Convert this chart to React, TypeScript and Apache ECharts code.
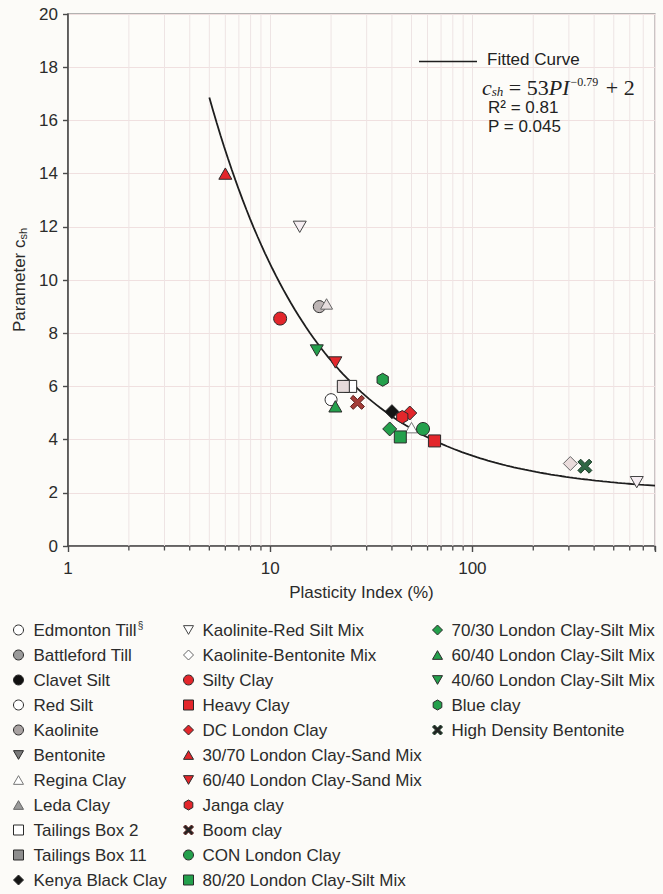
import React, { useEffect, useRef } from "react";
import * as echarts from "echarts";

const WIDTH = 663;
const HEIGHT = 894;

// Axis ticks
const xTickLabels = [1, 10, 100];
const xMinorTicks = [2, 3, 4, 5, 6, 7, 8, 9, 20, 30, 40, 50, 60, 70, 80, 90, 200, 300, 400, 500, 600, 700, 800];
const yTickValues = [0, 2, 4, 6, 8, 10, 12, 14, 16, 18, 20];

// Fitted curve c_sh = a * PI^b + c, drawn over the range below
const fitA = 53;
const fitB = -0.79;
const fitC = 2;
const fitRange = [5, 800];

// Measured points: [plasticity index (%), c_sh]
const edmontonTill = [[20, 5.5]];
const battlefordTill: number[][] = [];
const clavetSilt: number[][] = [];
const redSilt: number[][] = [];
const kaolinite = [[17.5, 9.0]];
const bentonite: number[][] = [];
const reginaClay = [[50, 4.45]];
const ledaClay = [[19, 9.1]];
const tailingsBox2 = [[25, 6.0]];
const tailingsBox11 = [[23, 6.0]];
const kenyaBlackClay = [[40, 5.05]];
const kaoliniteRedSiltMix = [[14, 12.0], [650, 2.4]];
const kaoliniteBentoniteMix = [[305, 3.1]];
const siltyClay = [[11.2, 8.55]];
const heavyClay = [[65, 3.95]];
const dcLondonClay = [[49, 5.0]];
const londonClaySand3070 = [[6, 14.0]];
const londonClaySand6040 = [[21, 6.9]];
const jangaClay = [[45, 4.85]];
const boomClay = [[27, 5.4]];
const conLondonClay = [[57, 4.4]];
const londonClaySilt8020 = [[44, 4.1]];
const londonClaySilt7030 = [[39, 4.4]];
const londonClaySilt6040 = [[21, 5.25]];
const londonClaySilt4060 = [[17, 7.35]];
const blueClay = [[36, 6.25]];
const highDensityBentonite = [[360, 3.0]];

// Marker shapes
const TRI_DOWN = "path://M0,0 L10,0 L5,8.7 Z";
const TRI_UP = "path://M5,0 L10,8.7 L0,8.7 Z";
const HEXAGON = "path://M5,0 L9.33,2.5 L9.33,7.5 L5,10 L0.67,7.5 L0.67,2.5 Z";
const CROSS = "path://M0,2 L2,0 L5,3 L8,0 L10,2 L7,5 L10,8 L8,10 L5,7 L2,10 L0,8 L3,5 Z";

const RED = "#e3262b";
const GREEN = "#24a04c";
const OUTLINE = "#2a2a2a";

type Spec = {
  name: string;
  data: number[][];
  symbol: string;
  fill: string;
  size: number;
  stroke?: string;
  legendFill?: string;
};

const col1: Spec[] = [
  { name: "Edmonton Till", data: edmontonTill, symbol: "circle", fill: "#ffffff", size: 12 },
  { name: "Battleford Till", data: battlefordTill, symbol: "circle", fill: "#9a9a9a", size: 12 },
  { name: "Clavet Silt", data: clavetSilt, symbol: "circle", fill: "#111111", size: 12 },
  { name: "Red Silt", data: redSilt, symbol: "circle", fill: "#ffffff", size: 12 },
  { name: "Kaolinite", data: kaolinite, symbol: "circle", fill: "#bdb5b5", size: 12, legendFill: "#a8a2a2" },
  { name: "Bentonite", data: bentonite, symbol: TRI_DOWN, fill: "#7a7a7a", size: 12 },
  { name: "Regina Clay", data: reginaClay, symbol: TRI_UP, fill: "#ffffff", size: 12, stroke: "#777777" },
  { name: "Leda Clay", data: ledaClay, symbol: TRI_UP, fill: "#e6dede", size: 12, stroke: "#666666", legendFill: "#9a9a9a" },
  { name: "Tailings Box 2", data: tailingsBox2, symbol: "rect", fill: "#ffffff", size: 12 },
  { name: "Tailings Box 11", data: tailingsBox11, symbol: "rect", fill: "#e6dada", size: 12, legendFill: "#8e8e8e" },
  { name: "Kenya Black Clay", data: kenyaBlackClay, symbol: "diamond", fill: "#151515", size: 14 },
];

const col2: Spec[] = [
  { name: "Kaolinite-Red Silt Mix", data: kaoliniteRedSiltMix, symbol: TRI_DOWN, fill: "#f6eef2", size: 13, stroke: "#444444", legendFill: "#ffffff" },
  { name: "Kaolinite-Bentonite Mix", data: kaoliniteBentoniteMix, symbol: "diamond", fill: "#eadcdc", size: 14, stroke: "#666666", legendFill: "#ffffff" },
  { name: "Silty Clay", data: siltyClay, symbol: "circle", fill: RED, size: 13 },
  { name: "Heavy Clay", data: heavyClay, symbol: "rect", fill: RED, size: 12 },
  { name: "DC London Clay", data: dcLondonClay, symbol: "diamond", fill: RED, size: 14 },
  { name: "30/70 London Clay-Sand Mix", data: londonClaySand3070, symbol: TRI_UP, fill: RED, size: 13 },
  { name: "60/40 London Clay-Sand Mix", data: londonClaySand6040, symbol: TRI_DOWN, fill: RED, size: 13 },
  { name: "Janga clay", data: jangaClay, symbol: HEXAGON, fill: RED, size: 13 },
  { name: "Boom clay", data: boomClay, symbol: CROSS, fill: "#a43d38", size: 14, stroke: "#5a1d1a", legendFill: "#222222" },
  { name: "CON London Clay", data: conLondonClay, symbol: "circle", fill: GREEN, size: 13 },
  { name: "80/20 London Clay-Silt Mix", data: londonClaySilt8020, symbol: "rect", fill: GREEN, size: 12 },
];

const col3: Spec[] = [
  { name: "70/30 London Clay-Silt Mix", data: londonClaySilt7030, symbol: "diamond", fill: GREEN, size: 14 },
  { name: "60/40 London Clay-Silt Mix", data: londonClaySilt6040, symbol: TRI_UP, fill: GREEN, size: 13 },
  { name: "40/60 London Clay-Silt Mix", data: londonClaySilt4060, symbol: TRI_DOWN, fill: GREEN, size: 13 },
  { name: "Blue clay", data: blueClay, symbol: HEXAGON, fill: GREEN, size: 13 },
  { name: "High Density Bentonite", data: highDensityBentonite, symbol: CROSS, fill: "#2f6844", size: 14, stroke: "#1a3a26", legendFill: "#222222" },
];

const FONT = "'Liberation Sans', Arial, sans-serif";
const SERIF = "'Liberation Serif', 'Times New Roman', serif";

function buildOption() {
  const all = [...col1, ...col2, ...col3];

  // points along the fitted curve, evenly spaced in log(PI)
  const fitPoints: number[][] = [];
  const steps = 120;
  const l0 = Math.log10(fitRange[0]);
  const l1 = Math.log10(fitRange[1]);
  for (let i = 0; i <= steps; i++) {
    const pi = Math.pow(10, l0 + ((l1 - l0) * i) / steps);
    fitPoints.push([pi, fitA * Math.pow(pi, fitB) + fitC]);
  }

  const scatterSeries = all.map((s) => ({
    type: "scatter",
    name: s.name,
    data: s.data,
    symbol: s.symbol,
    symbolSize: s.size,
    symbolKeepAspect: true,
    z: 4,
    itemStyle: {
      color: s.fill,
      borderColor: s.stroke || OUTLINE,
      borderWidth: 1,
      opacity: 1,
    },
    emphasis: { disabled: true },
  }));

  const legendItems = (col: Spec[]) =>
    col.map((s) => ({
      name: s.name,
      icon: s.symbol,
      itemStyle: {
        color: s.legendFill || s.fill,
        borderColor: s.stroke || OUTLINE,
        borderWidth: 1,
      },
    }));

  const legendText = (pad: number) => ({
    fontFamily: FONT,
    fontSize: 17,
    lineHeight: 20,
    color: "#2b2b2b",
    padding: [0, 0, 0, pad],
    rich: {
      sup: { fontFamily: FONT, fontSize: 10, lineHeight: 20, verticalAlign: "top", padding: [0, 0, 0, 1] },
    },
  });

  const legendBase = {
    orient: "vertical",
    top: 620,
    itemWidth: 10,
    itemHeight: 10,
    itemGap: 5,
    selectedMode: false,
    padding: 0,
    formatter: (name: string) => (name === "Edmonton Till" ? "Edmonton Till{sup|§}" : name),
  };

  return {
    animation: false,
    backgroundColor: "#fcfbf8",
    textStyle: { fontFamily: FONT },
    grid: {
      left: 68,
      right: 8,
      top: 14,
      bottom: HEIGHT - 546,
      show: true,
      borderColor: "#6a6a6a",
      borderWidth: 1.2,
      backgroundColor: "#fdfcf9",
    },
    xAxis: {
      type: "log",
      logBase: 10,
      min: 1,
      max: 800,
      name: "Plasticity Index (%)",
      nameLocation: "middle",
      nameGap: 38,
      nameTextStyle: { fontFamily: FONT, fontSize: 17, color: "#2b2b2b" },
      axisLine: { show: true, onZero: false, lineStyle: { color: "#4a4a4a", width: 1.6 } },
      axisTick: { show: true, length: 6, lineStyle: { color: "#4a4a4a", width: 1.4 } },
      axisLabel: {
        fontFamily: FONT,
        fontSize: 17,
        color: "#2b2b2b",
        margin: 14,
        formatter: (v: number) => {
          const r = Math.round(v);
          return xTickLabels.includes(r) ? String(r) : "";
        },
      },
      splitLine: { show: true, lineStyle: { color: "#eee4e4", width: 1 } },
    },
    yAxis: {
      type: "value",
      min: yTickValues[0],
      max: yTickValues[yTickValues.length - 1],
      interval: 2,
      name: "Parameter c{sub|sh}",
      nameLocation: "middle",
      nameGap: 30,
      nameTextStyle: {
        fontFamily: FONT,
        fontSize: 17,
        color: "#2b2b2b",
        rich: {
          sub: { fontFamily: FONT, fontSize: 11, lineHeight: 11, verticalAlign: "bottom", padding: [9, 0, 0, 0], color: "#2b2b2b" },
        },
      },
      axisLine: { show: true, lineStyle: { color: "#4a4a4a", width: 1.6 } },
      axisTick: { show: true, length: 5, lineStyle: { color: "#4a4a4a", width: 1.4 } },
      axisLabel: { fontFamily: FONT, fontSize: 17, color: "#2b2b2b", margin: 10 },
      splitLine: { show: true, lineStyle: { color: "#f0e0e0", width: 1 } },
    },
    legend: [
      { ...legendBase, left: 13, data: legendItems(col1), textStyle: legendText(5) },
      { ...legendBase, left: 183, data: legendItems(col2), textStyle: legendText(4) },
      { ...legendBase, left: 432, data: legendItems(col3), textStyle: legendText(4) },
    ],
    graphic: [
      {
        type: "line",
        z: 100,
        shape: { x1: 419, y1: 61.5, x2: 477, y2: 61.5 },
        style: { stroke: "#1e1e1e", lineWidth: 1.5 },
      },
      {
        type: "text",
        z: 100,
        x: 487,
        y: 59,
        style: { text: "Fitted Curve", fontFamily: FONT, fontSize: 17, fill: "#222", verticalAlign: "middle", align: "left" },
      },
      {
        type: "text",
        z: 100,
        x: 482,
        y: 76,
        style: {
          text: "{i|c}{sub|sh}{n| = 53}{i|PI}{sup|−0.79}{n| + 2}",
          fill: "#222",
          verticalAlign: "top",
          align: "left",
          rich: {
            i: { fontFamily: SERIF, fontStyle: "italic", fontSize: 22, lineHeight: 22, verticalAlign: "top", fill: "#222" },
            n: { fontFamily: SERIF, fontSize: 22, lineHeight: 22, verticalAlign: "top", fill: "#222" },
            sub: { fontFamily: SERIF, fontStyle: "italic", fontSize: 13, lineHeight: 13, verticalAlign: "bottom", padding: [11, 0, 0, 0], fill: "#222" },
            sup: { fontFamily: SERIF, fontSize: 12, lineHeight: 12, verticalAlign: "top", padding: [0, 2, 0, 1], fill: "#222" },
          },
        },
      },
      {
        type: "text",
        z: 100,
        x: 488,
        y: 107.5,
        style: { text: "R² = 0.81", fontFamily: FONT, fontSize: 17, fill: "#222", verticalAlign: "middle", align: "left" },
      },
      {
        type: "text",
        z: 100,
        x: 488,
        y: 126.5,
        style: { text: "P = 0.045", fontFamily: FONT, fontSize: 17, fill: "#222", verticalAlign: "middle", align: "left" },
      },
    ],
    series: [
      {
        // minor grid lines and minor ticks of the log axis (2..9 in each decade)
        type: "custom",
        name: "minor-grid",
        silent: true,
        clip: false,
        z: 1,
        data: xMinorTicks.map((v) => [v]),
        encode: { x: 0 },
        renderItem: (_params: any, api: any) => {
          const v = api.value(0);
          const p0 = api.coord([v, yTickValues[0]]);
          const p1 = api.coord([v, yTickValues[yTickValues.length - 1]]);
          return {
            type: "group",
            children: [
              {
                type: "line",
                shape: { x1: p0[0], y1: p0[1], x2: p1[0], y2: p1[1] },
                style: { stroke: "#eee4e4", lineWidth: 1 },
              },
              {
                type: "line",
                shape: { x1: p0[0], y1: p0[1], x2: p0[0], y2: p0[1] + 4.5 },
                style: { stroke: "#4a4a4a", lineWidth: 1.3 },
              },
            ],
          };
        },
      },
      {
        type: "line",
        name: "Fitted Curve",
        data: fitPoints,
        showSymbol: false,
        symbol: "none",
        silent: true,
        z: 3,
        lineStyle: { color: "#1e1e1e", width: 1.8 },
      },
      ...scatterSeries,
    ],
  };
}

export default function App() {
  const ref = useRef<HTMLDivElement>(null);
  useEffect(() => {
    if (!ref.current) return;
    const chart = echarts.init(ref.current, undefined, { renderer: "svg", width: WIDTH, height: HEIGHT });
    chart.setOption(buildOption() as any);
    return () => chart.dispose();
  }, []);
  return (
    <div
      ref={ref}
      style={{ position: "absolute", left: 0, top: 0, width: WIDTH, height: HEIGHT, background: "#fcfbf8" }}
    />
  );
}
